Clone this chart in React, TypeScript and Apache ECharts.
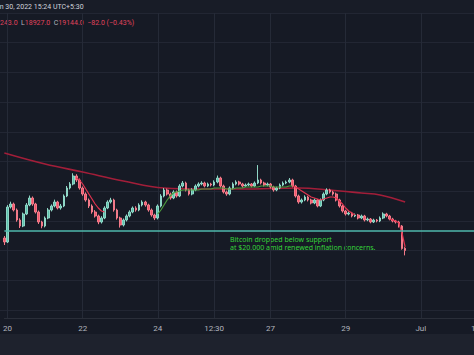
import React, { useEffect, useRef } from 'react';
import * as echarts from 'echarts';

// x-axis: 2-hour slots, index 0 = Jun 19 22:00
const categoryCount = 151;
const tickIndex = [1, 25, 49, 67, 85, 109, 133];
const tickLabels = ['20', '22', '24', '12:30', '27', '29', 'Jul'];

const openPrices = [
  19692, 19516, 21056, 21188, 20924, 20484, 20220, 20748, 21144, 21452,
  21188, 20836, 20396, 20220, 20572, 20924, 21100, 21276, 21012, 21100,
  21540, 21892, 22068, 22420, 22244, 21892, 21628, 21364, 21100, 20836,
  20660, 20396, 20572, 21012, 21276, 21364, 20924, 20572, 20264, 20484,
  20660, 20836, 21012, 20924, 21144, 21276, 21144, 20924, 20704, 20572,
  21100, 21540, 21804, 21628, 21452, 21716, 21540, 21980, 22112, 21804,
  21628, 21804, 21980, 22068, 22112, 21980, 22068, 22024, 22156, 22332,
  21980, 21716, 21628, 21892, 22068, 22156, 22068, 21980, 22024, 22068,
  21980, 22112, 22244, 22112, 22024, 22068, 21936, 21804, 21892, 22024,
  22112, 22156, 22244, 21980, 21540, 21276, 21364, 21496, 21364, 21232,
  21364, 21100, 21364, 21628, 21804, 21716, 21628, 21364, 21100, 20880,
  20748, 20792, 20660, 20704, 20572, 20660, 20484, 20528, 20396, 20484,
  20440, 20572, 20748, 20660, 20528, 20440, 20396, 20220, 19243,
];
const closePrices = [
  19516, 21056, 21188, 20924, 20484, 20220, 20748, 21144, 21452, 21188,
  20836, 20396, 20220, 20572, 20924, 21100, 21276, 21012, 21100, 21540,
  21892, 22068, 22420, 22244, 21892, 21628, 21364, 21100, 20836, 20660,
  20396, 20572, 21012, 21276, 21364, 20924, 20572, 20264, 20484, 20660,
  20836, 21012, 20924, 21144, 21276, 21144, 20924, 20704, 20572, 21100,
  21540, 21804, 21628, 21452, 21716, 21540, 21980, 22112, 21804, 21628,
  21804, 21980, 22068, 22112, 21980, 22068, 22024, 22156, 22332, 21980,
  21716, 21628, 21892, 22068, 22156, 22068, 21980, 22024, 22068, 21980,
  22112, 22244, 22112, 22024, 22068, 21936, 21804, 21892, 22024, 22112,
  22156, 22244, 21980, 21540, 21276, 21364, 21496, 21364, 21232, 21364,
  21100, 21364, 21628, 21804, 21716, 21628, 21364, 21100, 20880, 20748,
  20792, 20660, 20704, 20572, 20660, 20484, 20528, 20396, 20484, 20440,
  20572, 20748, 20660, 20528, 20440, 20396, 20220, 19226, 19144,
];
const highPrices = [
  19780, 21140, 21290, 21250, 20990, 20560, 20810, 21230, 21560, 21520,
  21240, 20900, 20450, 20640, 21010, 21170, 21380, 21330, 21190, 21610,
  21980, 22150, 22540, 22500, 22310, 21960, 21700, 21430, 21170, 20920,
  20720, 20650, 21090, 21350, 21460, 21420, 20980, 20630, 20550, 20730,
  20910, 21080, 21090, 21220, 21350, 21330, 21200, 20990, 20760, 21170,
  21620, 21890, 21870, 21690, 21790, 21780, 22060, 22200, 22170, 21860,
  21880, 22050, 22140, 22190, 22170, 22130, 22120, 22230, 22440, 22390,
  22040, 21780, 21960, 22140, 22230, 22210, 22120, 22090, 22130, 22110,
  22180, 22900, 22300, 22170, 22130, 22110, 21990, 21950, 22090, 22180,
  22220, 22330, 22300, 22030, 21600, 21430, 21570, 21550, 21420, 21430,
  21410, 21430, 21700, 21880, 21860, 21770, 21690, 21420, 21150, 20930,
  20860, 20840, 20770, 20750, 20720, 20710, 20590, 20570, 20540, 20530,
  20640, 20820, 20800, 20710, 20580, 20490, 20450, 20260, 19290,
];
const lowPrices = [
  19384, 19470, 20990, 20860, 20410, 20130, 20170, 20700, 21090, 21110,
  20770, 20310, 20120, 20160, 20520, 20860, 21040, 20950, 20940, 21050,
  21490, 21830, 22010, 22160, 21820, 21550, 21290, 21010, 20760, 20590,
  20300, 20330, 20520, 20960, 21210, 20850, 20500, 20150, 20200, 20420,
  20600, 20780, 20850, 20870, 21080, 21070, 20850, 20630, 20480, 20510,
  21040, 21480, 21560, 21380, 21400, 21470, 21490, 21920, 21740, 21560,
  21570, 21750, 21920, 22010, 21920, 21930, 21960, 21970, 22100, 21910,
  21650, 21550, 21570, 21830, 22010, 22000, 21910, 21930, 21970, 21920,
  21930, 22060, 22050, 21960, 21970, 21870, 21730, 21750, 21840, 21970,
  22060, 22100, 21920, 21470, 21200, 21210, 21310, 21300, 21170, 21180,
  21040, 21050, 21310, 21570, 21650, 21560, 21300, 21030, 20810, 20680,
  20690, 20600, 20610, 20510, 20520, 20420, 20430, 20340, 20350, 20380,
  20390, 20520, 20600, 20470, 20380, 20330, 20150, 19180, 18927,
];

// slow moving average, read at sparse points: [slot index, price]
const slowMaIndex = [0, 13, 25, 38, 51, 63, 76, 94, 104, 114, 120, 128];
const slowMaValues = [23432, 22948, 22596, 22200, 21892, 21848, 21848, 21892, 21804, 21672, 21584, 21276];

// fast moving average, rising (green) and falling (red) runs
const fastUpStart = 49;
const fastUpValues = [
  20748, 20924, 21144, 21364, 21540, 21672, 21716, 21760, 21804, 21804,
  21804, 21804, 21804, 21804, 21848, 21848, 21848, 21848, 21892, 21892,
  21892, 21892, 21848, 21848, 21848, 21892, 21892, 21892, 21936, 21936,
  21936, 21936, 21936, 21980, 21980, 21980, 21980, 21936, 21936, 21936,
  21936, 21936, 21980, 21980,
];
const fastDownAStart = 23;
const fastDownAValues = [22332, 22244, 22068, 21848, 21628, 21408, 21188, 21012, 20880, 20836];
const fastDownBStart = 92;
const fastDownBValues = [
  21980, 21936, 21848, 21760, 21672, 21584, 21496, 21452, 21408, 21364,
  21408, 21452, 21496, 21496, 21452, 21320, 21188, 21012, 20880, 20792, 20704,
];
const fastDownCStart = 123;
const fastDownCValues = [20528, 20484, 20440, 20352, 19912, 19296];

const supportLevel = 20000;

function placeRun(start: number, values: number[]) {
  const arr: (number | null)[] = new Array(categoryCount).fill(null);
  values.forEach((v, k) => { arr[start + k] = v; });
  return arr;
}

export default function App() {
  const ref = useRef<HTMLDivElement>(null);
  useEffect(() => {
    if (!ref.current) return;
    const chart = echarts.init(ref.current, null, { renderer: 'svg' });
    const categories = Array.from({ length: categoryCount }, (_, i) => `slot${i}`);
    const candles = openPrices.map((o, i) => [o, closePrices[i], lowPrices[i], highPrices[i]]);
    const slowMa: (number | null)[] = new Array(categoryCount).fill(null);
    slowMaIndex.forEach((idx, k) => { slowMa[idx] = slowMaValues[k]; });
    const isTick = (i: number) => tickIndex.includes(i);

    chart.setOption({
      animation: false,
      backgroundColor: '#161a25',
      grid: [
        { left: 0, right: 0, top: 13, bottom: 37 },
        { left: 0, right: 0, top: 13, bottom: 45 },
      ],
      xAxis: [
        {
          type: 'category', gridIndex: 0, data: categories, boundaryGap: false,
          axisLine: { show: true, lineStyle: { color: '#2a2e39', width: 1 } },
          axisTick: { show: false },
          axisLabel: {
            interval: (i: number) => isTick(i),
            formatter: (_v: string, i: number) => {
              const k = tickIndex.indexOf(i);
              return k >= 0 ? tickLabels[k] : '';
            },
            color: '#b2b5be', fontSize: 8, margin: 6, fontFamily: 'Roboto',
          },
          splitLine: { show: true, interval: (i: number) => isTick(i), lineStyle: { color: '#252a37', width: 1 } },
        },
        { type: 'value', gridIndex: 1, min: 0, max: 1, show: false },
      ],
      yAxis: [
        { type: 'value', gridIndex: 0, min: 16172, max: 29592, show: false },
        {
          type: 'value', gridIndex: 1, min: 0, max: 10, interval: 1,
          axisLine: { show: false }, axisTick: { show: false }, axisLabel: { show: false },
          splitLine: { show: true, lineStyle: { color: '#222633', width: 1 } },
        },
      ],
      series: [
        {
          type: 'line', xAxisIndex: 0, yAxisIndex: 0, data: slowMa, connectNulls: true,
          smooth: 0.4, showSymbol: false, symbol: 'none',
          lineStyle: { color: '#a21e39', width: 1.6 }, z: 2,
        },
        {
          type: 'candlestick', xAxisIndex: 0, yAxisIndex: 0, data: candles, barWidth: 2.2,
          itemStyle: { color: '#5cc2ad', color0: '#f0566a', borderColor: '#8fd6c6', borderColor0: '#f27a89', borderWidth: 1 },
          markLine: {
            silent: true, symbol: ['none', 'none'], label: { show: false },
            lineStyle: { color: '#4fb8ac', width: 1.5, type: 'solid' },
            data: [{ yAxis: supportLevel }],
          },
          z: 3,
        },
        {
          type: 'line', data: placeRun(fastUpStart, fastUpValues), showSymbol: false, symbol: 'none',
          lineStyle: { color: '#4a9a3c', width: 1.2 }, z: 4,
        },
        {
          type: 'line', data: placeRun(fastDownAStart, fastDownAValues), showSymbol: false, symbol: 'none',
          lineStyle: { color: '#e0334f', width: 1.2 }, z: 4,
        },
        {
          type: 'line', data: placeRun(fastDownBStart, fastDownBValues), showSymbol: false, symbol: 'none',
          lineStyle: { color: '#e0334f', width: 1.2 }, z: 4,
        },
        {
          type: 'line', data: placeRun(fastDownCStart, fastDownCValues), showSymbol: false, symbol: 'none',
          lineStyle: { color: '#e0334f', width: 1.2 }, z: 4,
        },
      ],
      graphic: [
        { type: 'rect', shape: { x: 0, y: 0, width: 474, height: 13 }, style: { fill: '#181c27' }, z: -1 },
        { type: 'line', shape: { x1: 0, y1: 13.5, x2: 474, y2: 13.5 }, style: { stroke: '#2a2e39', lineWidth: 1 } },
        { type: 'rect', shape: { x: 0, y: 334, width: 474, height: 21 }, style: { fill: '#1e222d' }, z: -1 },
        {
          type: 'text', x: -8, y: 7,
          style: { text: 'Jun 30, 2022 15:24 UTC+5:30', fill: '#d1d4dc', fontSize: 7, fontFamily: 'Roboto', verticalAlign: 'middle' },
        },
        {
          type: 'text', x: 0, y: 23,
          style: {
            text: '{r|243.0}  {g|L}{r|18927.0}  {g|C}{r|19144.0}  {r|−82.0 (−0.43%)}',
            verticalAlign: 'middle', fontSize: 7, fontFamily: 'Roboto',
            rich: {
              r: { fill: '#e0435c', fontSize: 7, fontFamily: 'Roboto' },
              g: { fill: '#b2b5be', fontSize: 7, fontFamily: 'Roboto' },
            },
          },
        },
        {
          type: 'text', x: 230, y: 236,
          style: {
            text: 'Bitcoin dropped below support\nat $20,000 amid renewed inflation concerns.',
            fill: '#35d43a', fontSize: 7, lineHeight: 7.5, fontFamily: 'Noto Sans',
          },
        },
        {
          type: 'text', x: 471, y: 328,
          style: { text: '12:30', fill: '#b2b5be', fontSize: 8, fontFamily: 'Roboto', verticalAlign: 'middle' },
        },
      ],
    });
    return () => chart.dispose();
  }, []);
  return (
    <div
      ref={ref}
      style={{ position: 'fixed', left: 0, top: 0, width: 474, height: 355, background: '#161a25' }}
    />
  );
}
